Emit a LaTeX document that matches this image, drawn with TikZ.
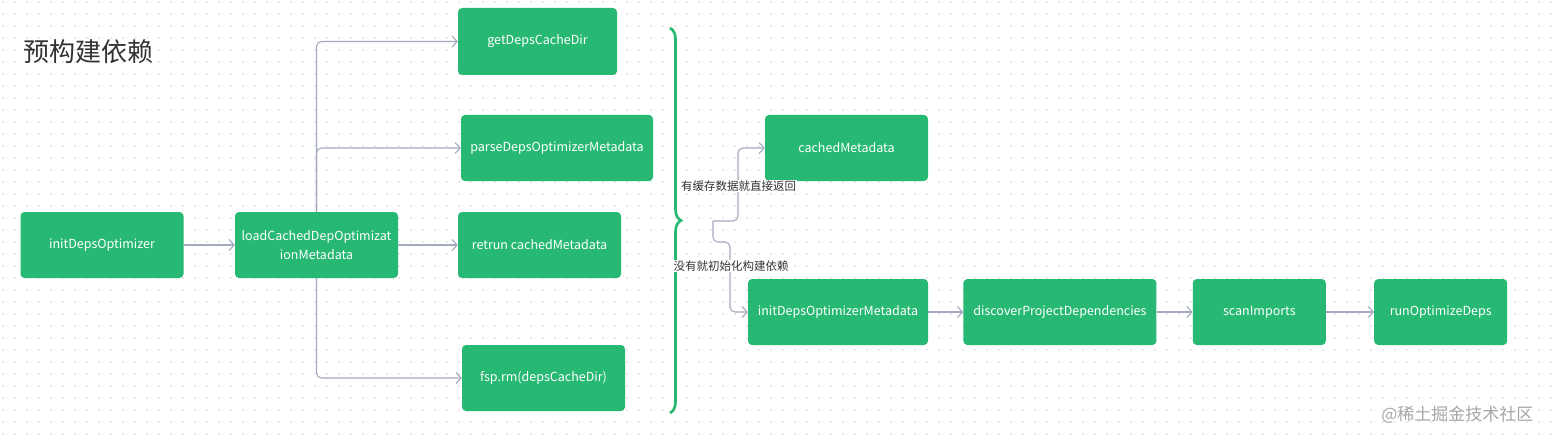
\documentclass[tikz,border=0pt]{standalone}
\usepackage{fontspec}
\setmainfont{Noto Sans CJK SC}
\usetikzlibrary{arrows.meta,positioning,decorations.pathreplacing}
\definecolor{jgreen}{HTML}{27B973}
\definecolor{linegray}{HTML}{A3AABD}
\definecolor{textdark}{HTML}{333333}
\definecolor{gridgray}{HTML}{EBEBEB}
\definecolor{markgray}{HTML}{A6A6A6}

\begin{document}
\begin{tikzpicture}[x=1pt,y=-1pt,
  box/.style={rectangle, fill=jgreen, rounded corners=4pt, minimum height=66pt, minimum width=163pt, align=center, text=white, font=\fontsize{12.5}{19.5}\selectfont, inner sep=0pt},
  conn/.style={-{Straight Barb[length=5pt,width=11pt]}, line width=1.1pt, draw=linegray, rounded corners=5pt},
  lbl/.style={fill=white, inner sep=1pt, text=textdark, font=\fontsize{11.5}{13}\selectfont},
  node distance=35pt]
% background and dot grid
\useasboundingbox (0,0) rectangle (1552,441);
\fill[white] (0,0) rectangle (1552,441);
\foreach \x in {3,15,...,1551}
  \foreach \y in {2,14,...,440}
    \fill[gridgray] (\x-0.7,\y-0.7) rectangle (\x+0.7,\y+0.7);

\node[text=textdark, font=\fontsize{26}{30}\selectfont, anchor=west] (title) at (20,52) {预构建依赖};

% left part
\node[box] (init) at (102,245) {initDepsOptimizer};
\node[box] (load) at (316.5,245) {loadCachedDepOptimizat\\ionMetadata};
\node[box, minimum width=159pt, minimum height=67pt] (getdir) at (537.5,41.5) {getDepsCacheDir};
\node[box, minimum width=192pt] (parse) at (557,148) {parseDepsOptimizerMetadata};
\node[box] (retrun) at (539.5,245) {retrun cachedMetadata};
\node[box] (fsprm) at (543.5,378) {fsp.rm(depsCacheDir)};

\draw[conn] (init) -- (load);
\draw[conn] (load.north) |- (getdir.west);
\draw[conn] (load.north) |- (parse.west);
\draw[conn] (load) -- (retrun);
\draw[conn] (load.south) |- (fsprm.west);

% brace
\draw[jgreen, line width=2.6pt, decorate, decoration={brace, amplitude=11pt}] (670,28) -- (670,413);

% right part
\coordinate (split) at (713,221);
\node[box] (cached) at (846.5,148) {cachedMetadata};
\node[box, minimum width=180pt] (initmeta) at (838,312) {initDepsOptimizerMetadata};
\node[box, minimum width=193pt, right=of initmeta] (discover) {discoverProjectDependencies};
\node[box, minimum width=133pt, right=36pt of discover] (scan) {scanImports};
\node[box, minimum width=133pt, right=48pt of scan] (runopt) {runOptimizeDeps};

\draw[conn] (split) -| (738,190) |- (cached.west);
\draw[conn] (split) |- (730,242) |- (initmeta.west);
\node[lbl] (hit) at (738.5,186) {有缓存数据就直接返回};
\node[lbl] (miss) at (731,266) {没有就初始化构建依赖};

\draw[conn] (initmeta) -- (discover);
\draw[conn] (discover) -- (scan);
\draw[conn] (scan) -- (runopt);

\node[text=markgray, font=\fontsize{17}{20}\selectfont, anchor=east] (mark) at (1537,415) {@稀土掘金技术社区};
\end{tikzpicture}
\end{document}
